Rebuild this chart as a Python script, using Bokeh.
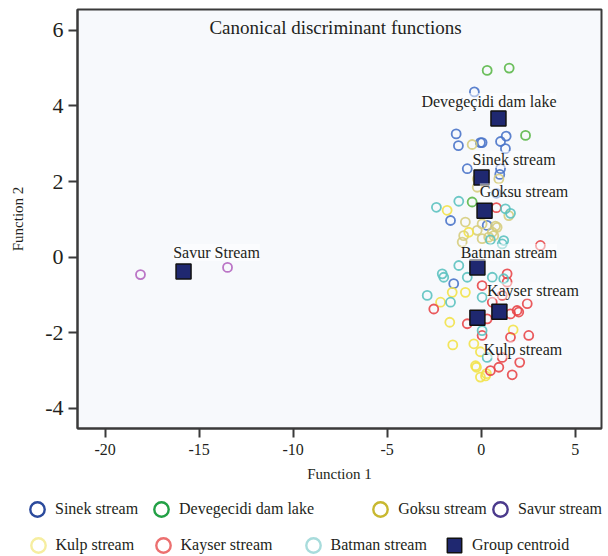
from bokeh.plotting import figure
from bokeh.layouts import column
from bokeh.models import (ColumnDataSource, LabelSet, Label, Legend, LegendItem,
                          FixedTicker, Range1d)
from bokeh.embed import file_html
from bokeh.resources import INLINE

# ---------------- data ----------------
sinek_x = [-0.36, -1.33, -1.21, -0.04, 0.05, 1.03, 1.33, 1.29, -0.74, 1.03, 0.99, 0.81, -1.63, 0.32, -1.46]
sinek_y = [4.37, 3.26, 2.95, 3.03, 3.03, 3.06, 3.20, 2.87, 2.34, 2.34, 2.19, 1.69, 0.97, 0.84, -0.70]

deveg_x = [0.32, 1.49, 2.36, -0.48]
deveg_y = [4.94, 5.00, 3.22, 1.46]

goksu_x = [-0.48, -0.20, 0.94, -0.21, 1.47, -0.84, 0.05, 0.76, -0.21, 0.59, 0.40, -1.01, 0.05, -0.93, 0.67, 0.85]
goksu_y = [2.98, 2.07, 2.07, 1.85, 1.10, 0.93, 0.88, 0.82, 0.71, 0.66, 0.53, 0.40, 0.49, 0.57, 0.57, 0.79]

savur_x = [-18.12, -13.49]
savur_y = [-0.46, -0.27]

kulp_x = [-1.81, -0.66, -1.54, -0.84, -2.16, -1.67, 1.70, -1.51, -0.39, -0.04, -0.25, -0.04, 0.23, 0.28, -0.30]
kulp_y = [1.24, 0.66, -0.93, -0.93, -1.19, -1.72, -1.92, -2.32, -2.29, -2.50, -2.91, -3.17, -3.14, -3.08, -2.87]

kayser_x = [0.81, 3.15, 0.05, 1.38, 1.38, 1.12, -2.52, 0.59, 2.45, 1.91, 2.00, 1.56, 0.32, -0.74, 0.05,
            1.56, 2.53, 1.12, 2.05, 0.94, 0.49, 1.65]
kayser_y = [1.31, 0.31, -0.75, -0.44, -0.66, -1.01, -1.37, -1.19, -1.23, -1.41, -1.45, -1.50, -1.63, -1.76, -2.07,
            -2.12, -2.07, -2.65, -2.78, -2.91, -3.00, -3.11]

batman_x = [-2.38, -1.19, 1.29, 1.56, 0.49, 1.20, 1.12, -1.19, -2.07, -1.99, -0.74, 0.59, -2.87, -1.63, 0.05,
            0.05, 0.32, 1.20]
batman_y = [1.32, 1.48, 1.28, 1.16, 0.46, 0.44, 0.35, -0.22, -0.44, -0.53, -0.53, -0.53, -1.01, -1.19, -1.06,
            -1.94, -2.65, -0.57]

centroid_names = ["Devegeçidi dam lake", "Sinek stream", "Goksu stream", "Batman stream",
                  "Kayser stream", "Kulp stream", "Savur Stream"]
centroid_x = [0.92, 0.02, 0.18, -0.20, 0.97, -0.20, -15.83]
centroid_y = [3.67, 2.11, 1.23, -0.27, -1.44, -1.60, -0.38]

legend_labels = ["Sinek stream", "Devegecidi dam lake", "Goksu stream", "Savur stream",
                 "Kulp stream", "Kayser stream", "Batman stream", "Group centroid"]

x_ticks = [-20, -15, -10, -5, 0, 5]
x_tick_labels = ["-20", "-15", "-10", "-5", "0", "5"]
y_ticks = [-4, -2, 0, 2, 4, 6]
y_tick_labels = ["-4", "-2", "0", "2", "4", "6"]

# ---------------- styles ----------------
FONT = "Liberation Serif"
TXT = "#231f20"
AX = "#3a3a3a"

point_colors = {
    "sinek": "#4a74c9", "deveg": "#5cb84a", "goksu": "#d6cd7e", "savur": "#b466c0",
    "kulp": "#f2e24a", "kayser": "#e8474a", "batman": "#5cc2c0",
}
legend_colors = ["#2b4a9c", "#22a045", "#c8b830", "#4b3a8c", "#f6eea0", "#ec7070", "#a8dcdc"]
centroid_fill = "#1f2870"
NAN = float("nan")

W = 604
p = figure(width=W, height=488, output_backend="svg", toolbar_location=None, title=None,
           x_range=Range1d(-21.47, 6.40), y_range=Range1d(-4.53, 6.55),
           min_border_left=77, min_border_right=3, min_border_top=9, min_border_bottom=60)
p.background_fill_color = "#f7f9fc"
p.border_fill_color = "white"
p.outline_line_color = AX
p.outline_line_width = 2
p.xgrid.visible = False
p.ygrid.visible = False

p.xaxis.ticker = FixedTicker(ticks=x_ticks)
p.yaxis.ticker = FixedTicker(ticks=y_ticks)
p.xaxis.major_label_overrides = dict(zip(x_ticks, x_tick_labels))
p.yaxis.major_label_overrides = dict(zip(y_ticks, y_tick_labels))
for ax in (p.xaxis[0], p.yaxis[0]):
    ax.axis_line_width = 2
    ax.axis_line_color = AX
    ax.major_tick_line_width = 2
    ax.major_tick_line_color = AX
    ax.major_tick_out = 9
    ax.major_tick_in = 0
    ax.minor_tick_line_color = None
    ax.major_label_text_font = FONT
    ax.major_label_text_color = TXT
    ax.axis_label_text_font = FONT
    ax.axis_label_text_font_style = "normal"
    ax.axis_label_text_color = TXT
    ax.axis_label_text_font_size = "15px"
p.xaxis.axis_label = "Function 1"
p.yaxis.axis_label = "Function 2"
p.xaxis.major_label_text_font_size = "16px"
p.yaxis.major_label_text_font_size = "22px"
p.xaxis.major_label_standoff = 6
p.yaxis.major_label_standoff = 5
p.xaxis.axis_label_standoff = 8
p.yaxis.axis_label_standoff = 16

# ---------------- points ----------------
groups = [
    (sinek_x, sinek_y, "sinek"), (deveg_x, deveg_y, "deveg"), (goksu_x, goksu_y, "goksu"),
    (savur_x, savur_y, "savur"), (kulp_x, kulp_y, "kulp"), (kayser_x, kayser_y, "kayser"),
    (batman_x, batman_y, "batman"),
]
for gx, gy, key in groups:
    p.scatter(x=gx, y=gy, marker="circle", size=9, fill_color=None,
              line_color=point_colors[key], line_width=1.8, line_alpha=0.9)

csrc = ColumnDataSource(dict(
    x=centroid_x, y=centroid_y, name=centroid_names,
    xo=[-9.5, 32.5, 39.5, 31.5, 33.5, 45.5, 33.0],
    yo=[17, 18, 19, 15, 21, -32, 19],
))
p.scatter(x="x", y="y", source=csrc, marker="square", size=15,
          fill_color=centroid_fill, line_color="#111111", line_width=1.5)

p.add_layout(LabelSet(x="x", y="y", text="name", source=csrc, x_offset="xo", y_offset="yo",
                      text_align="center", text_baseline="middle", text_font=FONT,
                      text_font_size="16px", text_color=TXT,
                      background_fill_color="white", background_fill_alpha=0.5))

p.add_layout(Label(x=(p.x_range.start + p.x_range.end) / 2, y=p.y_range.end,
                   x_offset=-4, y_offset=-18, text="Canonical discriminant functions",
                   text_align="center", text_baseline="middle", text_font=FONT,
                   text_font_size="19px", text_color=TXT))

# ---------------- legend strip below the chart ----------------
lg = figure(width=W, height=68, output_backend="svg", toolbar_location=None, title=None,
            x_range=Range1d(0, 1), y_range=Range1d(0, 1), x_axis_type=None, y_axis_type=None,
            min_border_left=0, min_border_right=0, min_border_top=0, min_border_bottom=0)
lg.outline_line_color = None
lg.background_fill_color = "white"
lg.border_fill_color = "white"
lg.xgrid.visible = False
lg.ygrid.visible = False
for fig in (p, lg):
    if "frame_align" in fig.properties():
        fig.frame_align = False

leg_pos = [(19.0, 29), (143.0, 29), (362.3, 29), (482.0, 29),
           (19.5, -7), (144.5, -7), (294.5, -7), (436.0, -7)]
for i, label in enumerate(legend_labels):
    if i < 7:
        r = lg.scatter(x=[NAN], y=[NAN], marker="circle", size=16, fill_color=None,
                       line_color=legend_colors[i], line_width=2.4)
    else:
        r = lg.scatter(x=[NAN], y=[NAN], marker="square", size=16, fill_color=centroid_fill,
                       line_color="#111111", line_width=1.5)
    vx, vy = leg_pos[i]
    leg = Legend(items=[LegendItem(label=label, renderers=[r])], location=(vx, vy),
                 orientation="horizontal", glyph_width=36, glyph_height=36,
                 label_standoff=0, padding=0, margin=0, spacing=0,
                 border_line_color=None, background_fill_alpha=0,
                 label_text_font=FONT, label_text_font_size="16px", label_text_color=TXT)
    lg.add_layout(leg)

layout = column(p, lg, spacing=0)
open("out.html", "w").write(file_html(layout, INLINE))
